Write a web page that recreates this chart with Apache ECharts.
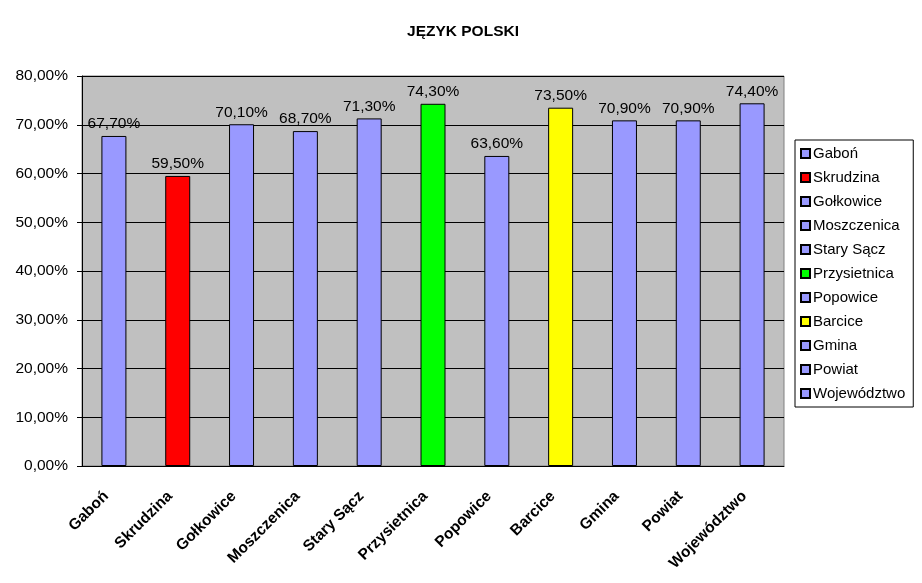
<!DOCTYPE html>
<html>
<head>
<meta charset="utf-8">
<script src="https://cdn.jsdelivr.net/npm/echarts@6/dist/echarts.min.js"></script>
<style>
html,body{margin:0;padding:0;background:#fff;}
#chart{width:922px;height:583px;}
</style>
</head>
<body>
<div id="chart"></div>
<script>
var categories = ['Gaboń','Skrudzina','Gołkowice','Moszczenica','Stary Sącz','Przysietnica','Popowice','Barcice','Gmina','Powiat','Województwo'];
var values = [67.7, 59.5, 70.1, 68.7, 71.3, 74.3, 63.6, 73.5, 70.9, 70.9, 74.4];
var colors = ['#9999FF','#FF0000','#9999FF','#9999FF','#9999FF','#00FF00','#9999FF','#FFFF00','#9999FF','#9999FF','#9999FF'];

function pct(v){ return v.toFixed(2).replace('.', ',') + '%'; }

var series = [];
for (var i = 0; i < categories.length; i++) {
	var d = [];
	for (var j = 0; j < categories.length; j++) d.push(j == i ? values[i] : '-');
	series.push({
		name: categories[i],
		type: 'bar',
		stack: 'all',
		barWidth: 25,
		data: d,
		itemStyle: { color: colors[i], borderColor: '#000', borderWidth: 1 },
		label: {
			show: true, position: 'top', distance: 4,
			color: '#000', fontSize: 15.5, fontFamily: 'Liberation Sans',
			formatter: function(p){ return pct(p.value); }
		}
	});
}

var option = {
	animation: false,
	backgroundColor: '#fff',
	title: {
		text: 'JĘZYK POLSKI', left: 458, top: 19, textAlign: 'center',
		textStyle: { fontSize: 15.5, fontWeight: 'bold', color: '#000', fontFamily: 'Liberation Sans' }
	},
	legend: {
		orient: 'vertical', left: 795, top: 140,
		itemWidth: 9, itemHeight: 9, itemGap: 9, icon: 'rect',
		padding: [6, 8, 6, 5],
		borderColor: '#000', borderWidth: 1,
		textStyle: { fontSize: 15, color: '#000', fontFamily: 'Liberation Sans', padding: [0,0,0,-2] },
		data: categories
	},
	grid: { left: 82, top: 76, width: 702, height: 390, backgroundColor: '#C0C0C0', show: true, borderColor: '#808080', borderWidth: 1 },
	xAxis: {
		type: 'category', data: categories,
		axisLine: { lineStyle: { color: '#000' } },
		axisTick: { length: 5, lineStyle: { color: '#000' } },
		axisLabel: { rotate: 45, interval: 0, fontSize: 15.5, fontWeight: 'bold', color: '#000', fontFamily: 'Liberation Sans', margin: 20, padding: [0, 11, 11, 0] }
	},
	yAxis: {
		type: 'value', min: 0, max: 80, interval: 10,
		axisLine: { show: true, lineStyle: { color: '#000' } },
		axisTick: { show: true, length: 5, lineStyle: { color: '#000' } },
		splitLine: { lineStyle: { color: '#000' } },
		axisLabel: { fontSize: 15.5, color: '#000', fontFamily: 'Liberation Sans', margin: 14, formatter: function(v){ return pct(v); } }
	},
	series: series
};

var chart = echarts.init(document.getElementById('chart'));
chart.setOption(option);
</script>
</body>
</html>
